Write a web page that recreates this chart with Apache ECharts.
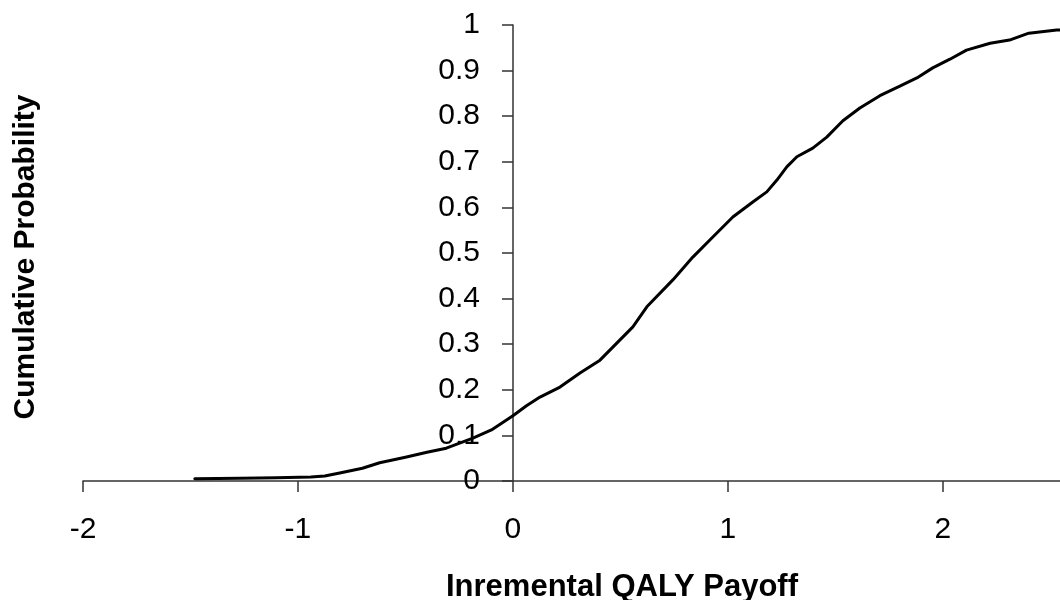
<!DOCTYPE html>
<html>
<head>
<meta charset="utf-8">
<script src="https://cdn.jsdelivr.net/npm/echarts@6/dist/echarts.min.js"></script>
<style>html,body{margin:0;padding:0;background:#fff;}#c{width:1060px;height:600px;}</style>
</head>
<body>
<div id="c"></div>
<script>
var xValues = [-1.48, -1.27, -1.1, -0.94, -0.875, -0.8, -0.7, -0.62, -0.5, -0.4, -0.31, -0.186, -0.1, 0, 0.063, 0.126, 0.219, 0.312, 0.405, 0.451, 0.558, 0.623, 0.744, 0.837, 0.93, 1.023, 1.116, 1.181, 1.228, 1.274, 1.321, 1.395, 1.46, 1.535, 1.614, 1.707, 1.8, 1.879, 1.953, 2.033, 2.11, 2.22, 2.31, 2.4, 2.53, 2.6];
var cumProb = [0.005, 0.006, 0.007, 0.009, 0.011, 0.018, 0.028, 0.04, 0.052, 0.063, 0.072, 0.094, 0.112, 0.143, 0.165, 0.184, 0.206, 0.237, 0.265, 0.287, 0.338, 0.382, 0.441, 0.491, 0.535, 0.579, 0.612, 0.634, 0.66, 0.689, 0.711, 0.73, 0.754, 0.79, 0.818, 0.845, 0.866, 0.884, 0.906, 0.925, 0.945, 0.96, 0.967, 0.982, 0.989, 0.99];
var xTicks = [-2, -1, 0, 1, 2];
var xTitle = 'Inremental QALY Payoff';
var yTitle = 'Cumulative Probability';

var points = xValues.map(function (x, i) { return [x, cumProb[i]]; });
var chart = echarts.init(document.getElementById('c'), null, {renderer: 'canvas'});
var font = '"Liberation Sans", Arial, sans-serif';
chart.setOption({
  animation: false,
  backgroundColor: '#fff',
  grid: {left: 83, right: 0, top: 25, bottom: 119, containLabel: false, outerBoundsMode: 'none'},
  xAxis: {
    type: 'value', min: -2, max: 2.545, interval: 1,
    splitLine: {show: false},
    axisLine: {show: true, onZero: false, lineStyle: {color: '#333', width: 1.5}},
    axisTick: {show: true, length: 11, inside: false, customValues: xTicks, lineStyle: {color: '#333', width: 1.5}},
    axisLabel: {customValues: xTicks, margin: 34, color: '#000', fontSize: 30, fontFamily: font}
  },
  yAxis: {
    type: 'value', min: 0, max: 1, interval: 0.1,
    position: 'left', offset: -430,
    splitLine: {show: false},
    axisLine: {show: true, onZero: false, lineStyle: {color: '#333', width: 1.5}},
    axisTick: {show: true, length: 11, inside: false, lineStyle: {color: '#333', width: 1.5}},
    axisLabel: {margin: 33, color: '#000', fontSize: 30, fontFamily: font}
  },
  graphic: [
    {type: 'text', x: 622, y: 587, style: {text: xTitle, align: 'center', verticalAlign: 'middle', font: 'bold 31px ' + font, fill: '#000'}},
    {type: 'text', x: 26, y: 257, rotation: Math.PI / 2, style: {text: yTitle, align: 'center', verticalAlign: 'middle', font: 'bold 30px ' + font, fill: '#000'}}
  ],
  series: [{
    type: 'line', data: points, showSymbol: false, smooth: false,
    lineStyle: {color: '#000', width: 3, join: 'round', cap: 'round'}, clip: true
  }]
});
</script>
</body>
</html>
